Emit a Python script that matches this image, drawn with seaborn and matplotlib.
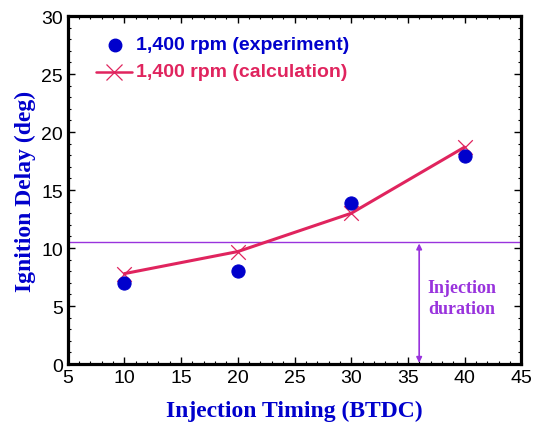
import matplotlib
matplotlib.use("Agg")
import matplotlib.pyplot as plt
import seaborn as sns
import pandas as pd
from matplotlib.ticker import MultipleLocator

timing = [10, 20, 30, 40]
delay_experiment = [7.0, 8.0, 13.9, 17.9]
delay_calculation = [7.8, 9.7, 13.0, 18.7]
injection_level = 10.5
arrow_x = 36

sns.set_style("ticks")
plt.rcParams['font.family'] = ['Liberation Sans', 'DejaVu Sans']

fig = plt.figure(figsize=(5.34, 4.27), dpi=100)
ax = fig.add_axes([0.127, 0.145, 0.849, 0.815])

blue = "#0000CC"
red = "#E0245E"
purple = "#9933DD"

df = pd.DataFrame({"t": timing, "exp": delay_experiment, "calc": delay_calculation})

sns.lineplot(data=df, x="t", y="calc", ax=ax, color=red, linewidth=2.2, zorder=3)
sns.scatterplot(data=df, x="t", y="calc", ax=ax, marker="x", color=red, s=110,
                linewidth=0.9, zorder=4)
sns.scatterplot(data=df, x="t", y="exp", ax=ax, color=blue, s=90, edgecolor=blue,
                zorder=5)

ax.axhline(injection_level, color=purple, linewidth=1.0, zorder=2)
ax.annotate("", xy=(arrow_x, 0.1), xytext=(arrow_x, injection_level - 0.1),
            arrowprops=dict(arrowstyle="<|-|>", color=purple, lw=1.2,
                            mutation_scale=8, shrinkA=0, shrinkB=0))
ax.text(39.8, 5.7, "Injection\nduration", color=purple, ha="center", va="center",
        fontsize=13, fontweight="bold", family=["Liberation Serif"], linespacing=1.25)

ax.set_xlim(5, 45)
ax.set_ylim(0, 30)
ax.xaxis.set_major_locator(MultipleLocator(5))
ax.xaxis.set_minor_locator(MultipleLocator(1))
ax.yaxis.set_major_locator(MultipleLocator(5))
ax.yaxis.set_minor_locator(MultipleLocator(1))
ax.tick_params(which="both", direction="in", top=True, right=True, labelsize=14,
               colors="black")
ax.tick_params(which="major", length=5, width=1)
ax.tick_params(which="minor", length=2.5, width=0.8)
for s in ax.spines.values():
    s.set_linewidth(2.3)
    s.set_color("black")
    s.set_visible(True)

ax.set_xlabel("Injection Timing (BTDC)", color=blue, fontsize=17, fontweight="bold",
              family=["Liberation Serif"], labelpad=10)
ax.set_ylabel("Ignition Delay (deg)", color=blue, fontsize=17, fontweight="bold",
              family=["Liberation Serif"], labelpad=4)

# legend drawn manually in axes coordinates
ax.plot([0.062, 0.142], [0.84, 0.84], transform=ax.transAxes, color=red, lw=1.8)
ax.plot([0.102], [0.84], transform=ax.transAxes, marker="x", color=red, ms=11, mew=0.9)
ax.plot([0.104], [0.917], transform=ax.transAxes, marker="o", color=blue, ms=9)
ax.text(0.15, 0.917, "1,400 rpm (experiment)", transform=ax.transAxes, color=blue,
        fontsize=14, fontweight="bold", va="center")
ax.text(0.15, 0.84, "1,400 rpm (calculation)", transform=ax.transAxes, color=red,
        fontsize=14, fontweight="bold", va="center")

fig.savefig("out.png", dpi=100)
